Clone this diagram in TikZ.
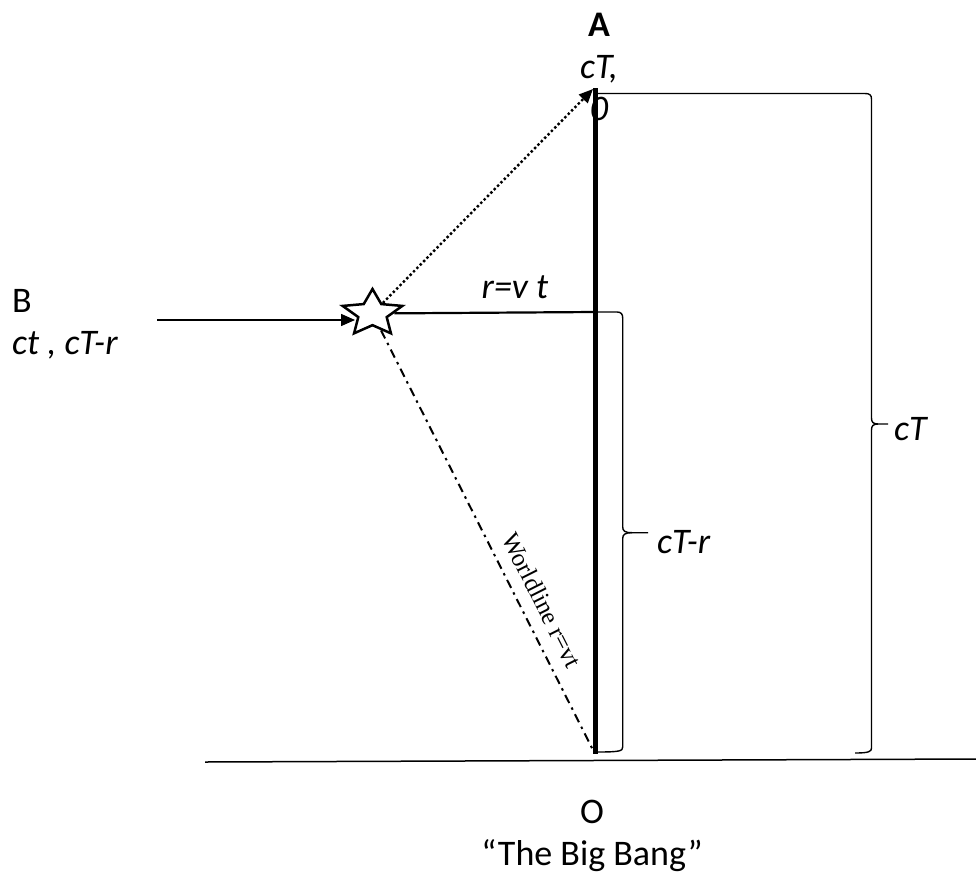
\documentclass[tikz,border=0pt]{standalone}
\usepackage{fontspec}
\setmainfont{Carlito}
\newfontfamily\wlfont{Liberation Serif}
\usetikzlibrary{shapes.geometric,arrows.meta}
\begin{document}
\begin{tikzpicture}[x=1pt,y=-1pt,
  lbl/.style={inner sep=0pt,font=\fontsize{36}{42}\selectfont},
  thin line/.style={line width=1.5pt},
  bracepath/.style={line width=1.4pt},
  tip/.style={-{Triangle[length=14pt,width=12pt]}}]
\useasboundingbox (0,0) rectangle (976,875);
% key points
\coordinate (Atip) at (593,89);
\coordinate (Otop) at (595,88);
\coordinate (Obot) at (595,754);
\coordinate (Rend) at (595,312);
\coordinate (Bstart) at (157,320);
\coordinate (Bend) at (355,320);
\coordinate (Gl) at (205,762);
\coordinate (Gr) at (976,759);
% star
\node[star,star points=5,star point ratio=2.1,draw,line width=2.5pt,
      minimum size=49pt,inner sep=0pt,xscale=1.28] (S) at (372.5,313.5) {};
% main vertical line
\draw[line width=5pt] (Otop) -- (Obot);
% ground line
\draw[thin line] (Gl) -- (Gr);
% arrows and lines
\draw[thin line,tip] (Bstart) -- (Bend);
\draw[line width=2.2pt] (S) -- (Rend);
\draw[line width=2.4pt,dash pattern=on 2.4pt off 2.4pt,tip] (S) -- (Atip);
\draw[line width=2pt,dash pattern=on 9pt off 5pt on 2.5pt off 5pt] (S) -- (594,752);
% big brace cT
\draw[bracepath] (598,93.5) -- (865,93.5)
  .. controls (869.5,93.5) and (871.5,95) .. (871.5,99) -- (871.5,418)
  .. controls (871.5,422) and (873,424) .. (878,424) -- (888,424);
\draw[bracepath] (878,424) .. controls (873,424) and (871.5,426) .. (871.5,430)
  -- (871.5,748) .. controls (871.5,751.5) and (869,753) .. (855,753);
% small brace cT-r
\draw[bracepath] (597,312) -- (617,312)
  .. controls (621,312) and (622.7,314) .. (622.7,318) -- (622.7,527)
  .. controls (622.7,531) and (625,532.7) .. (632,532.7) -- (648,532.7);
\draw[bracepath] (632,532.7) .. controls (625,532.7) and (622.7,534.5) .. (622.7,538.5)
  -- (622.7,747) .. controls (622.7,751) and (620,752) .. (597,752);
% labels
\node[lbl,align=center,anchor=north] (A) at (599,13)
  {\textbf{A}\\\textit{cT,}\\\textit{0}};
\node[lbl,align=left,anchor=north west] (B) at (12,289)
  {B\\\textit{ct , cT-r}};
\node[lbl,anchor=base] (rvt) at (515,298) {\textit{r=v t}};
\node[lbl,anchor=base west] (cTr) at (657,553) {\textit{cT-r}};
\node[lbl,anchor=base west] (cT) at (894,440) {\textit{cT}};
\node[lbl,align=center,anchor=north] (O) at (592,800)
  {O\\“The Big Bang”};
\node[inner sep=0pt,font=\wlfont\fontsize{25}{30}\selectfont,rotate=-63.2] (WL) at (542,600) {Worldline r=vt};
\end{tikzpicture}
\end{document}
